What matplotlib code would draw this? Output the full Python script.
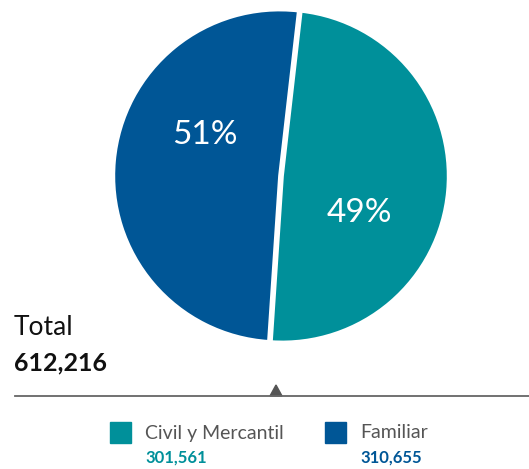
import matplotlib
matplotlib.use('Agg')
import matplotlib.pyplot as plt

# datos
categorias = ['Civil y Mercantil', 'Familiar']
valores = [301561, 310655]
colores = ['#00909A', '#005696']
total = sum(valores)

plt.rcParams['font.family'] = ['Lato', 'DejaVu Sans']

fig = plt.figure(figsize=(5.29, 4.69), dpi=100)

# ---- pastel ----
W, H = 529, 469
cx, cy, r = 281, 176, 166
ax = fig.add_axes([(cx - r) / W, (H - cy - r) / H, 2 * r / W, 2 * r / H])
wedges, _, autotexts = ax.pie(
    valores, colors=colores, startangle=83.5, counterclock=False,
    autopct=lambda p: f'{p:.0f}%', explode=[0.008, 0.008],
    wedgeprops=dict(edgecolor='white', linewidth=2.2),
    textprops=dict(color='white', fontsize=24))
# posiciones de las etiquetas
autotexts[0].set_position((0.47, -0.22))
autotexts[1].set_position((-0.46, 0.25))
ax.set_xlim(-1.0, 1.0)
ax.set_ylim(-1.0, 1.0)
ax.set_aspect('auto')
ax.axis('off')

# ---- total ----
fig.text(14 / W, 1 - 327 / H, 'Total', fontsize=19, color='#111111',
         ha='left', va='center')
fig.text(14 / W, 1 - 363 / H, f'{total:,}', fontsize=18, fontweight='bold',
         color='#111111', ha='left', va='center')

# ---- línea y triángulo ----
fig.add_artist(plt.Line2D([15 / W, 1.0], [1 - 396 / H, 1 - 396 / H],
                          color='#666666', linewidth=1.3))
fig.add_artist(plt.Polygon([[270 / W, 1 - 396 / H], [282 / W, 1 - 396 / H],
                            [276 / W, 1 - 385 / H]], closed=True,
                           color='#555555'))

# ---- leyenda ----
leg_x = [110, 325]
for i, (cat, val, col) in enumerate(zip(categorias, valores, colores)):
    x0 = leg_x[i]
    fig.add_artist(plt.Rectangle((x0 / W, 1 - 443 / H), 21 / W, 21 / H,
                                 color=col, transform=fig.transFigure))
    fig.text((x0 + 35) / W, 1 - 433 / H, cat, fontsize=14, color='#555555',
             ha='left', va='center')
    fig.text((x0 + 35) / W, 1 - 458 / H, f'{val:,}', fontsize=12,
             fontweight='bold', color=col, ha='left', va='center')

plt.savefig('out.png', dpi=100)
plt.close()
